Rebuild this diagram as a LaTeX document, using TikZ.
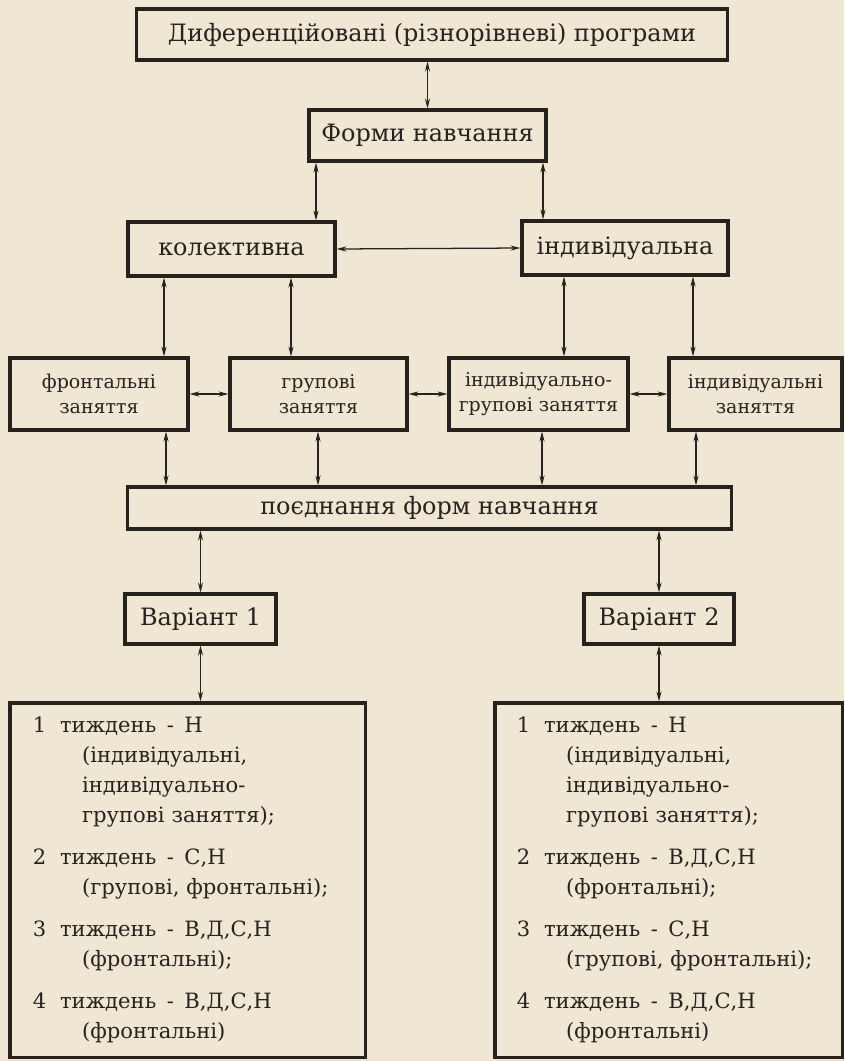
\documentclass[tikz,border=0pt]{standalone}
\usepackage{fontspec}
\setmainfont{DejaVu Serif}
\usetikzlibrary{arrows.meta}

\definecolor{paper}{RGB}{239,231,211}
\definecolor{ink}{RGB}{38,34,30}

\newcommand{\week}[2]{#1\hspace{0.65em}тиждень\enspace-\enspace #2}

\tikzset{
  box/.style={draw=ink, line width=2.2pt, inner sep=0pt, text=ink,
    font=\fontsize{17}{20}\selectfont},
  rowbox/.style={box, align=center, minimum height=1.8cm,
    font=\fontsize{13.5}{18}\selectfont},
  planbox/.style={box, align=left, minimum height=8.85cm,
    font=\fontsize{15}{21.3}\selectfont},
  link/.style={{Stealth[length=7pt,width=3.6pt]}-{Stealth[length=7pt,width=3.6pt]},
    draw=ink, line width=0.9pt},
}

\begin{document}
\begin{tikzpicture}[x=0.025cm,y=-0.025cm]
  \fill[paper] (0,0) rectangle (844,1061);
  \useasboundingbox (0,0) rectangle (844,1061);

  % upper part
  \node[box, minimum width=14.75cm, minimum height=1.275cm] (prog) at (432,34.5)
    {Диференційовані (різнорівневі) програми};
  \node[box, minimum width=5.925cm, minimum height=1.275cm] (forms) at (427.5,135.5)
    {Форми навчання};
  \node[box, minimum width=5.175cm, minimum height=1.35cm] (kolekt) at (231.5,249)
    {колективна};
  \node[box, minimum width=5.15cm, minimum height=1.35cm] (indyv) at (625,248)
    {індивідуальна};

  % kinds of lessons
  \node[rowbox, minimum width=4.45cm] (front) at (99,394) {фронтальні\\заняття};
  \node[rowbox, minimum width=4.425cm] (grup) at (318.5,394) {групові\\заняття};
  \node[rowbox, minimum width=4.475cm] (indgr) at (538.5,394) {індивідуально-\\групові заняття};
  \node[rowbox, minimum width=4.325cm] (indz) at (755.5,394) {індивідуальні\\заняття};

  \node[box, minimum width=15.075cm, minimum height=1.05cm] (poyedn) at (429.5,508)
    {поєднання форм навчання};

  \node[box, minimum width=3.775cm, minimum height=1.25cm] (var1) at (200.5,619) {Варіант 1};
  \node[box, minimum width=3.75cm, minimum height=1.25cm] (var2) at (659,619) {Варіант 2};

  % weekly plans
  \node[planbox, text width=7.725cm, inner xsep=0.575cm] (week1) at (187.5,880) {%
    \week{1}{Н}\\
    \hspace*{35pt}(індивідуальні,\\
    \hspace*{35pt}індивідуально-\\
    \hspace*{35pt}групові~заняття);\\[8.5pt]
    \week{2}{С,Н}\\
    \hspace*{35pt}(групові,~фронтальні);\\[8.5pt]
    \week{3}{В,Д,С,Н}\\
    \hspace*{35pt}(фронтальні);\\[8.5pt]
    \week{4}{В,Д,С,Н}\\
    \hspace*{35pt}(фронтальні)};
  \node[planbox, text width=7.575cm, inner xsep=0.55cm] (week2) at (668.5,880) {%
    \week{1}{Н}\\
    \hspace*{35pt}(індивідуальні,\\
    \hspace*{35pt}індивідуально-\\
    \hspace*{35pt}групові~заняття);\\[8.5pt]
    \week{2}{В,Д,С,Н}\\
    \hspace*{35pt}(фронтальні);\\[8.5pt]
    \week{3}{С,Н}\\
    \hspace*{35pt}(групові,~фронтальні);\\[8.5pt]
    \week{4}{В,Д,С,Н}\\
    \hspace*{35pt}(фронтальні)};

  % connectors
  \draw[link] (prog.south -| forms.north) -- (forms.north);
  \draw[link] (forms.south -| 316,0) -- (kolekt.north -| 316,0);
  \draw[link] (forms.south -| 543,0) -- (indyv.north -| 543,0);
  \draw[link] (kolekt.east) -- (indyv.west);
  \draw[link] (kolekt.south -| 164,0) -- (front.north -| 164,0);
  \draw[link] (kolekt.south -| 291,0) -- (grup.north -| 291,0);
  \draw[link] (indyv.south -| 564,0) -- (indgr.north -| 564,0);
  \draw[link] (indyv.south -| 693,0) -- (indz.north -| 693,0);
  \draw[link] (front.east) -- (grup.west);
  \draw[link] (grup.east) -- (indgr.west);
  \draw[link] (indgr.east) -- (indz.west);
  \draw[link] (front.south -| 166,0) -- (poyedn.north -| 166,0);
  \draw[link] (grup.south -| 318,0) -- (poyedn.north -| 318,0);
  \draw[link] (indgr.south -| 542,0) -- (poyedn.north -| 542,0);
  \draw[link] (indz.south -| 696,0) -- (poyedn.north -| 696,0);
  \draw[link] (poyedn.south -| var1.north) -- (var1.north);
  \draw[link] (poyedn.south -| var2.north) -- (var2.north);
  \draw[link] (var1.south) -- (week1.north -| var1.south);
  \draw[link] (var2.south) -- (week2.north -| var2.south);
\end{tikzpicture}
\end{document}
